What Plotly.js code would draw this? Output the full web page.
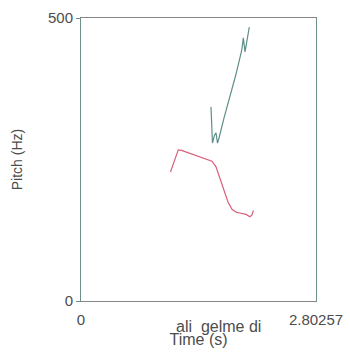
<!DOCTYPE html>
<html><head><meta charset="utf-8">
<script src="https://cdn.plot.ly/plotly-3.0.1.min.js"></script>
<style>html,body{margin:0;padding:0;background:#fff}</style>
</head><body>
<div id="chart" style="width:350px;height:356px"></div>
<script>
// upper pitch contour (green)
var timeA = [1.550, 1.556, 1.568, 1.592, 1.610, 1.628, 1.646, 1.705, 1.777, 1.849, 1.917, 1.936, 1.956, 1.980, 2.007];
var pitchA = [343, 311, 279, 293, 297, 279, 288, 323, 362, 401, 443, 465, 440, 461, 484];
// lower pitch contour (red)
var timeB = [1.067, 1.109, 1.160, 1.199, 1.300, 1.419, 1.515, 1.562, 1.610, 1.658, 1.705, 1.753, 1.801, 1.849, 1.908, 1.968, 2.015, 2.039, 2.057];
var pitchB = [228, 246, 267, 266, 261, 255, 250, 247, 237, 217, 194, 175, 162, 157, 155, 153, 149, 152, 160];
var xTickVals = [0, 2.8026];
var xTickText = ["0", "2.80257"];
var yTickVals = [0, 500];
var yTickText = ["0", "500"];
var wordsLabel = "ali  gelme di";

var grey = "#4d4d4d";
var traces = [
  {x: timeA, y: pitchA, mode: "lines", line: {color: "#5f8f8a", width: 1.2}, hoverinfo: "skip"},
  {x: timeB, y: pitchB, mode: "lines", line: {color: "#d9607a", width: 1.2}, hoverinfo: "skip"}
];
var layout = {
  width: 350, height: 356,
  margin: {l: 81, r: 34, t: 18, b: 55},
  showlegend: false,
  paper_bgcolor: "#fff", plot_bgcolor: "#fff",
  font: {family: "Liberation Sans, Arial, sans-serif", color: grey},
  xaxis: {
    range: [0, 2.8026], showgrid: false, zeroline: false,
    showline: true, mirror: true, linecolor: "#858585", linewidth: 1,
    tickmode: "array", tickvals: xTickVals, ticktext: xTickText,
    ticks: "", ticklabelstandoff: 5, tickfont: {size: 15, color: grey},
    title: {text: "Time (s)", font: {size: 16, color: grey}, standoff: 6}
  },
  yaxis: {
    range: [0, 500], showgrid: false, zeroline: false,
    showline: true, mirror: true, linecolor: "#6f918c", linewidth: 1,
    tickmode: "array", tickvals: yTickVals, ticktext: yTickText,
    ticks: "outside", ticklen: 4, tickcolor: "#6f918c",
    tickfont: {size: 15, color: grey},
    title: {text: "Pitch (Hz)", font: {size: 14, color: grey}, standoff: 22}
  },
  annotations: [
    {text: wordsLabel, xref: "paper", yref: "paper", x: 0.583, y: -0.09,
     xanchor: "center", yanchor: "middle", showarrow: false,
     font: {size: 16, color: grey}}
  ]
};
Plotly.newPlot("chart", traces, layout, {staticPlot: true, displayModeBar: false});
</script>
</body></html>
